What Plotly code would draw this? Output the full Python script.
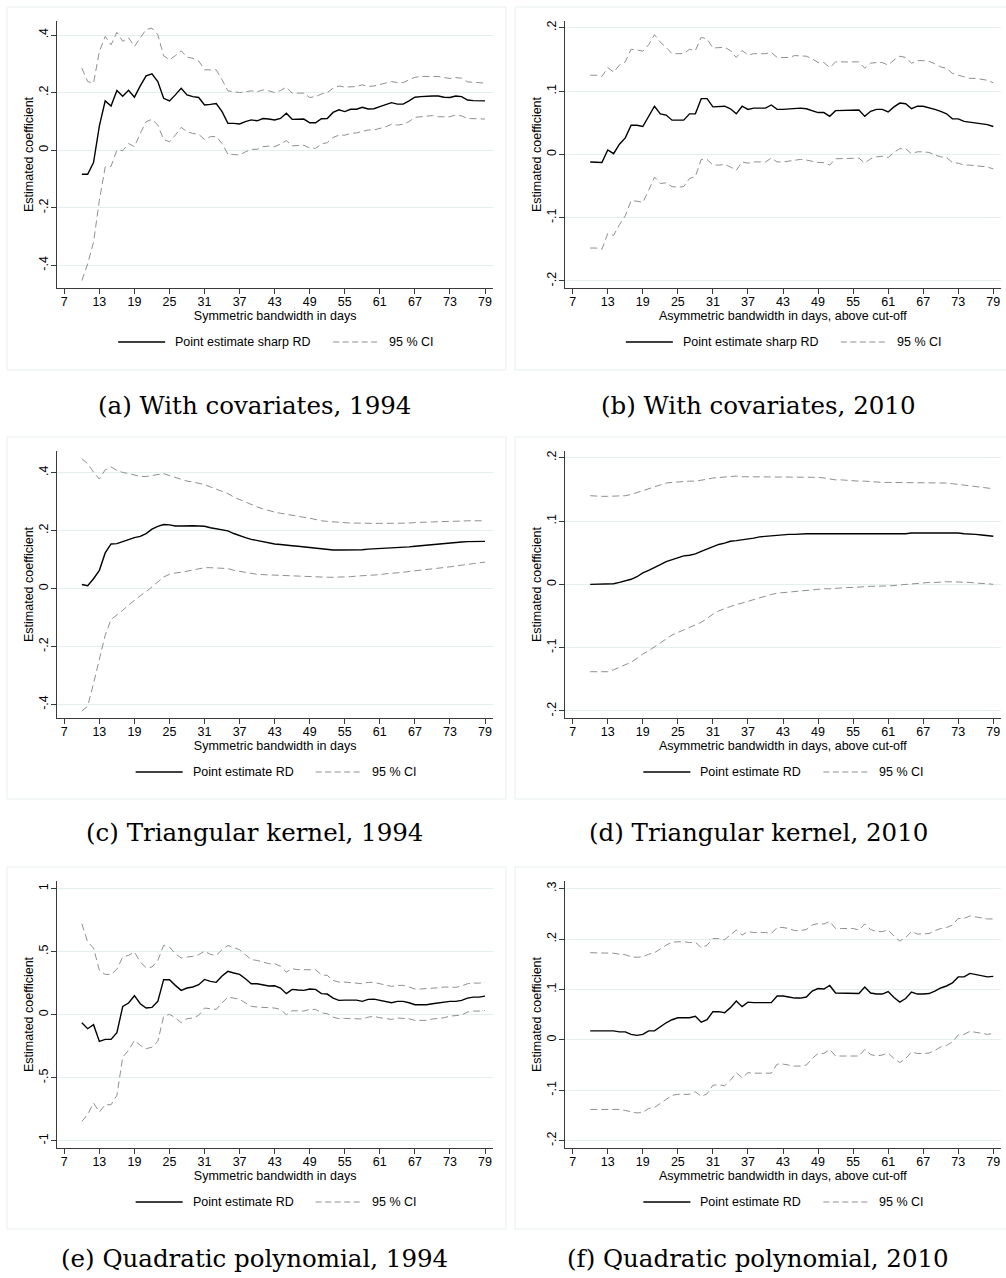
import plotly.graph_objects as go

# ---------------- DATA ----------------
days = list(range(10, 80))

# (a) With covariates, 1994
a_point = [-0.084, -0.084, -0.043, 0.084, 0.171, 0.153, 0.207, 0.187, 0.208, 0.184,
           0.223, 0.258, 0.265, 0.238, 0.180, 0.171, 0.192, 0.215, 0.192, 0.186,
           0.183, 0.157, 0.159, 0.162, 0.134, 0.093, 0.093, 0.091, 0.099, 0.105,
           0.102, 0.110, 0.108, 0.105, 0.110, 0.128, 0.107, 0.107, 0.108, 0.095,
           0.095, 0.109, 0.110, 0.131, 0.140, 0.134, 0.142, 0.142, 0.149, 0.143,
           0.144, 0.151, 0.157, 0.165, 0.160, 0.160, 0.171, 0.184, 0.186, 0.188,
           0.188, 0.188, 0.184, 0.183, 0.188, 0.186, 0.174, 0.172, 0.172, 0.171]
a_upper = [0.285, 0.238, 0.233, 0.343, 0.395, 0.366, 0.409, 0.378, 0.390, 0.360,
           0.390, 0.419, 0.424, 0.401, 0.328, 0.314, 0.328, 0.345, 0.323, 0.319,
           0.310, 0.279, 0.279, 0.279, 0.244, 0.206, 0.203, 0.200, 0.203, 0.206,
           0.203, 0.209, 0.206, 0.200, 0.207, 0.219, 0.198, 0.198, 0.198, 0.183,
           0.186, 0.195, 0.200, 0.215, 0.223, 0.219, 0.221, 0.221, 0.227, 0.221,
           0.223, 0.229, 0.233, 0.238, 0.235, 0.235, 0.244, 0.253, 0.256, 0.256,
           0.256, 0.256, 0.252, 0.249, 0.252, 0.250, 0.237, 0.235, 0.235, 0.233]
a_lower = [-0.453, -0.395, -0.320, -0.174, -0.058, -0.056, 0.000, -0.002, 0.023, 0.012,
           0.058, 0.099, 0.107, 0.087, 0.037, 0.029, 0.052, 0.079, 0.064, 0.058,
           0.055, 0.037, 0.047, 0.047, 0.023, -0.015, -0.015, -0.017, -0.006, 0.003,
           0.003, 0.012, 0.014, 0.012, 0.021, 0.033, 0.015, 0.015, 0.017, 0.008,
           0.006, 0.021, 0.026, 0.044, 0.052, 0.052, 0.058, 0.060, 0.064, 0.070,
           0.070, 0.076, 0.081, 0.090, 0.087, 0.090, 0.099, 0.114, 0.116, 0.120,
           0.120, 0.116, 0.116, 0.116, 0.122, 0.119, 0.110, 0.110, 0.109, 0.108]

# (b) With covariates, 2010
b_point = [-0.012, -0.012, -0.013, 0.007, 0.001, 0.016, 0.026, 0.046, 0.046, 0.044,
           0.060, 0.076, 0.064, 0.062, 0.054, 0.054, 0.054, 0.064, 0.064, 0.088,
           0.088, 0.075, 0.075, 0.076, 0.072, 0.064, 0.076, 0.071, 0.073, 0.073,
           0.073, 0.078, 0.071, 0.071, 0.072, 0.073, 0.073, 0.072, 0.069, 0.066,
           0.066, 0.060, 0.069, 0.069, 0.069, 0.069, 0.070, 0.060, 0.068, 0.071,
           0.071, 0.067, 0.075, 0.081, 0.080, 0.072, 0.076, 0.076, 0.074, 0.071,
           0.068, 0.064, 0.056, 0.056, 0.052, 0.051, 0.049, 0.049, 0.047, 0.044]
b_upper = [0.125, 0.125, 0.123, 0.137, 0.130, 0.141, 0.146, 0.166, 0.165, 0.163,
           0.173, 0.189, 0.177, 0.169, 0.159, 0.159, 0.159, 0.166, 0.164, 0.185,
           0.182, 0.168, 0.168, 0.169, 0.164, 0.153, 0.164, 0.157, 0.159, 0.159,
           0.159, 0.161, 0.153, 0.153, 0.153, 0.156, 0.156, 0.155, 0.151, 0.145,
           0.145, 0.137, 0.146, 0.146, 0.146, 0.146, 0.146, 0.136, 0.144, 0.145,
           0.145, 0.141, 0.149, 0.155, 0.153, 0.144, 0.148, 0.148, 0.147, 0.143,
           0.138, 0.136, 0.128, 0.125, 0.123, 0.120, 0.120, 0.119, 0.117, 0.113]
b_lower = [-0.148, -0.148, -0.150, -0.125, -0.128, -0.111, -0.097, -0.073, -0.074, -0.076,
           -0.057, -0.036, -0.046, -0.045, -0.051, -0.052, -0.051, -0.038, -0.035, -0.008,
           -0.008, -0.017, -0.017, -0.016, -0.020, -0.025, -0.012, -0.014, -0.012, -0.012,
           -0.012, -0.006, -0.012, -0.012, -0.011, -0.009, -0.008, -0.009, -0.011, -0.013,
           -0.013, -0.017, -0.007, -0.007, -0.007, -0.007, -0.006, -0.014, -0.007, -0.004,
           -0.003, -0.005, 0.003, 0.009, 0.009, 0.001, 0.004, 0.004, 0.003, -0.001,
           -0.004, -0.005, -0.013, -0.014, -0.017, -0.017, -0.018, -0.019, -0.020, -0.023]

# (c) Triangular kernel, 1994
c_point = [0.014, 0.010, 0.034, 0.063, 0.123, 0.154, 0.155, 0.163, 0.169, 0.176,
           0.180, 0.190, 0.205, 0.215, 0.221, 0.220, 0.216, 0.216, 0.217, 0.217,
           0.216, 0.215, 0.210, 0.207, 0.203, 0.199, 0.190, 0.182, 0.176, 0.170,
           0.166, 0.161, 0.157, 0.154, 0.152, 0.149, 0.148, 0.146, 0.144, 0.141,
           0.138, 0.136, 0.134, 0.133, 0.133, 0.133, 0.133, 0.134, 0.134, 0.136,
           0.137, 0.137, 0.138, 0.139, 0.140, 0.143, 0.144, 0.146, 0.148, 0.151,
           0.153, 0.154, 0.156, 0.157, 0.160, 0.161, 0.162, 0.163, 0.163, 0.163]
c_upper = [0.448, 0.431, 0.402, 0.378, 0.410, 0.420, 0.408, 0.401, 0.397, 0.392,
           0.387, 0.387, 0.390, 0.394, 0.397, 0.390, 0.383, 0.376, 0.371, 0.368,
           0.364, 0.359, 0.351, 0.343, 0.336, 0.328, 0.316, 0.307, 0.298, 0.289,
           0.282, 0.275, 0.269, 0.264, 0.260, 0.256, 0.253, 0.249, 0.246, 0.243,
           0.238, 0.234, 0.232, 0.230, 0.229, 0.228, 0.226, 0.226, 0.225, 0.225,
           0.225, 0.225, 0.225, 0.225, 0.225, 0.226, 0.226, 0.228, 0.228, 0.229,
           0.230, 0.231, 0.231, 0.232, 0.233, 0.233, 0.234, 0.234, 0.234, 0.234]
c_lower = [-0.423, -0.406, -0.328, -0.247, -0.161, -0.107, -0.092, -0.075, -0.057, -0.040,
           -0.025, -0.011, 0.006, 0.023, 0.040, 0.049, 0.054, 0.056, 0.060, 0.064,
           0.069, 0.072, 0.072, 0.071, 0.071, 0.069, 0.063, 0.059, 0.055, 0.052,
           0.049, 0.048, 0.047, 0.046, 0.045, 0.044, 0.044, 0.044, 0.043, 0.041,
           0.040, 0.039, 0.039, 0.039, 0.039, 0.040, 0.041, 0.043, 0.044, 0.045,
           0.047, 0.048, 0.051, 0.052, 0.054, 0.056, 0.059, 0.061, 0.063, 0.066,
           0.068, 0.070, 0.072, 0.075, 0.078, 0.080, 0.084, 0.086, 0.089, 0.091]

# (d) Triangular kernel, 2010
d_point = [0.000, 0.000, 0.000, 0.000, 0.001, 0.003, 0.005, 0.008, 0.012, 0.018,
           0.022, 0.026, 0.031, 0.036, 0.039, 0.043, 0.045, 0.046, 0.048, 0.052,
           0.056, 0.060, 0.063, 0.065, 0.068, 0.069, 0.070, 0.072, 0.073, 0.075,
           0.076, 0.077, 0.078, 0.079, 0.079, 0.079, 0.080, 0.080, 0.080, 0.080,
           0.080, 0.080, 0.079, 0.079, 0.079, 0.079, 0.079, 0.079, 0.079, 0.079,
           0.079, 0.079, 0.079, 0.080, 0.080, 0.081, 0.081, 0.081, 0.081, 0.082,
           0.082, 0.082, 0.081, 0.081, 0.080, 0.080, 0.079, 0.078, 0.077, 0.076]
d_upper = [0.140, 0.139, 0.139, 0.139, 0.139, 0.139, 0.140, 0.142, 0.145, 0.147,
           0.150, 0.153, 0.157, 0.160, 0.161, 0.162, 0.162, 0.163, 0.163, 0.164,
           0.166, 0.168, 0.169, 0.170, 0.170, 0.171, 0.170, 0.170, 0.170, 0.170,
           0.170, 0.170, 0.170, 0.170, 0.170, 0.170, 0.170, 0.170, 0.169, 0.169,
           0.168, 0.166, 0.165, 0.165, 0.164, 0.164, 0.163, 0.163, 0.162, 0.162,
           0.161, 0.161, 0.161, 0.161, 0.161, 0.161, 0.161, 0.161, 0.161, 0.161,
           0.160, 0.160, 0.159, 0.158, 0.157, 0.156, 0.155, 0.154, 0.152, 0.151]
d_lower = [-0.138, -0.138, -0.138, -0.138, -0.135, -0.131, -0.128, -0.123, -0.117, -0.110,
           -0.105, -0.099, -0.093, -0.086, -0.080, -0.076, -0.072, -0.069, -0.065, -0.060,
           -0.054, -0.047, -0.042, -0.038, -0.035, -0.032, -0.030, -0.027, -0.024, -0.021,
           -0.019, -0.016, -0.014, -0.013, -0.012, -0.011, -0.010, -0.009, -0.009, -0.008,
           -0.007, -0.007, -0.006, -0.006, -0.005, -0.005, -0.004, -0.004, -0.003, -0.003,
           -0.003, -0.002, -0.002, -0.001, 0.000, 0.001, 0.002, 0.002, 0.003, 0.003,
           0.004, 0.004, 0.004, 0.004, 0.003, 0.003, 0.002, 0.002, 0.001, 0.000]

# (e) Quadratic polynomial, 1994
e_point = [-0.063, -0.111, -0.079, -0.212, -0.196, -0.196, -0.143, 0.066, 0.093, 0.151,
           0.087, 0.053, 0.058, 0.106, 0.278, 0.278, 0.233, 0.193, 0.212, 0.220,
           0.238, 0.280, 0.265, 0.257, 0.307, 0.344, 0.331, 0.320, 0.286, 0.246,
           0.246, 0.238, 0.228, 0.230, 0.212, 0.167, 0.201, 0.196, 0.193, 0.204,
           0.201, 0.167, 0.164, 0.132, 0.114, 0.116, 0.114, 0.116, 0.106, 0.122,
           0.124, 0.114, 0.101, 0.095, 0.106, 0.106, 0.095, 0.079, 0.079, 0.079,
           0.087, 0.093, 0.095, 0.106, 0.106, 0.114, 0.132, 0.140, 0.140, 0.148]
e_upper = [0.722, 0.577, 0.529, 0.352, 0.320, 0.320, 0.360, 0.458, 0.471, 0.497,
           0.418, 0.373, 0.378, 0.431, 0.550, 0.537, 0.484, 0.450, 0.458, 0.463,
           0.476, 0.505, 0.479, 0.471, 0.516, 0.550, 0.532, 0.516, 0.476, 0.437,
           0.431, 0.418, 0.405, 0.405, 0.384, 0.339, 0.365, 0.357, 0.357, 0.362,
           0.357, 0.317, 0.312, 0.272, 0.259, 0.259, 0.254, 0.251, 0.246, 0.257,
           0.257, 0.246, 0.233, 0.225, 0.233, 0.233, 0.220, 0.204, 0.204, 0.206,
           0.209, 0.214, 0.220, 0.220, 0.217, 0.228, 0.246, 0.251, 0.251, 0.257]
e_lower = [-0.847, -0.791, -0.701, -0.772, -0.714, -0.714, -0.640, -0.336, -0.283, -0.204,
           -0.243, -0.270, -0.257, -0.212, -0.013, 0.003, -0.024, -0.063, -0.032, -0.026,
           -0.005, 0.053, 0.048, 0.042, 0.095, 0.140, 0.132, 0.122, 0.093, 0.066,
           0.061, 0.058, 0.053, 0.053, 0.042, 0.000, 0.032, 0.029, 0.029, 0.042,
           0.042, 0.016, 0.008, -0.019, -0.032, -0.029, -0.029, -0.029, -0.034, -0.019,
           -0.013, -0.024, -0.032, -0.037, -0.026, -0.026, -0.032, -0.045, -0.045, -0.045,
           -0.034, -0.032, -0.024, -0.011, -0.008, -0.003, 0.021, 0.029, 0.029, 0.034]

# (f) Quadratic polynomial, 2010
f_point = [0.018, 0.018, 0.018, 0.017, 0.018, 0.016, 0.016, 0.011, 0.009, 0.011,
           0.018, 0.018, 0.026, 0.034, 0.040, 0.044, 0.044, 0.044, 0.047, 0.035,
           0.040, 0.056, 0.056, 0.054, 0.064, 0.077, 0.066, 0.075, 0.074, 0.074,
           0.074, 0.074, 0.087, 0.087, 0.085, 0.083, 0.083, 0.085, 0.097, 0.102,
           0.101, 0.108, 0.093, 0.093, 0.093, 0.093, 0.092, 0.105, 0.093, 0.091,
           0.091, 0.096, 0.084, 0.075, 0.082, 0.095, 0.091, 0.091, 0.092, 0.097,
           0.103, 0.107, 0.113, 0.125, 0.125, 0.132, 0.130, 0.128, 0.125, 0.126]
f_upper = [0.173, 0.173, 0.173, 0.172, 0.172, 0.170, 0.169, 0.165, 0.164, 0.165,
           0.170, 0.173, 0.181, 0.188, 0.194, 0.195, 0.195, 0.193, 0.194, 0.183,
           0.188, 0.201, 0.201, 0.199, 0.208, 0.218, 0.208, 0.215, 0.213, 0.213,
           0.213, 0.211, 0.223, 0.223, 0.221, 0.217, 0.217, 0.219, 0.228, 0.231,
           0.230, 0.235, 0.221, 0.221, 0.221, 0.221, 0.218, 0.230, 0.219, 0.215,
           0.215, 0.218, 0.206, 0.196, 0.203, 0.215, 0.210, 0.210, 0.211, 0.217,
           0.221, 0.223, 0.228, 0.241, 0.241, 0.246, 0.244, 0.242, 0.240, 0.240]
f_lower = [-0.138, -0.138, -0.138, -0.138, -0.138, -0.138, -0.140, -0.143, -0.145, -0.144,
           -0.136, -0.134, -0.126, -0.119, -0.110, -0.108, -0.108, -0.108, -0.103, -0.112,
           -0.107, -0.090, -0.089, -0.091, -0.080, -0.065, -0.075, -0.065, -0.066, -0.066,
           -0.066, -0.066, -0.048, -0.048, -0.050, -0.052, -0.052, -0.050, -0.037, -0.027,
           -0.027, -0.019, -0.032, -0.032, -0.032, -0.032, -0.032, -0.019, -0.029, -0.032,
           -0.030, -0.026, -0.037, -0.045, -0.037, -0.024, -0.027, -0.027, -0.026, -0.021,
           -0.014, -0.011, -0.004, 0.010, 0.011, 0.017, 0.015, 0.013, 0.011, 0.013]

x_tickvals = list(range(7, 80, 6))

y_ticks_a = [-0.4, -0.2, 0, 0.2, 0.4]
y_ticktext_a = ["-.4", "-.2", "0", ".2", ".4"]
y_ticks_b = [-0.2, -0.1, 0, 0.1, 0.2]
y_ticktext_b = ["-.2", "-.1", "0", ".1", ".2"]
y_ticks_e = [-1, -0.5, 0, 0.5, 1]
y_ticktext_e = ["-1", "-.5", "0", ".5", "1"]
y_ticks_f = [-0.2, -0.1, 0, 0.1, 0.2, 0.3]
y_ticktext_f = ["-.2", "-.1", "0", ".1", ".2", ".3"]

x_title_sym = "Symmetric bandwidth in days"
x_title_asym = "Asymmetric bandwidth in days, above cut-off"
y_title = "Estimated coefficient"
legend_point_sharp = "Point estimate sharp RD"
legend_point = "Point estimate RD"
legend_ci = "95 % CI"

captions = ["(a) With covariates, 1994", "(b) With covariates, 2010",
            "(c) Triangular kernel, 1994", "(d) Triangular kernel, 2010",
            "(e) Quadratic polynomial, 1994", "(f) Quadratic polynomial, 2010"]

# ---------------- LAYOUT / STYLE ----------------
W, H = 1006, 1278
SANS = "Liberation Sans, Arial, sans-serif"
SERIF = "DejaVu Serif, serif"
FS = 12.5
GRID = "#e6eff0"
AXIS = "#3a3a3a"
CI_COL = "#8f8f8f"
BOX = "#e9eff1"

cols = [dict(x0=57.3, x1=493.0, xr=[5.80, 80.37], cap_c=254, box=(7, 506)),
        dict(x0=565.0, x1=1000.7, xr=[5.68, 80.27], cap_c=758, box=(515, 1014))]
rows = [dict(y0=20.7, y1=288.3, cap=405, box=(7, 370)),
        dict(y0=450.7, y1=718.3, cap=832, box=(437, 799)),
        dict(y0=880.7, y1=1148.3, cap=1258, box=(867, 1229))]

panels = [
    dict(pt=a_point, hi=a_upper, lo=a_lower, yt=y_ticks_a, ytt=y_ticktext_a, yr=[-0.480, 0.4497],
         xt=x_title_sym, leg=legend_point_sharp, legw=135),
    dict(pt=b_point, hi=b_upper, lo=b_lower, yt=y_ticks_b, ytt=y_ticktext_b, yr=[-0.2116, 0.2111],
         xt=x_title_asym, leg=legend_point_sharp, legw=135),
    dict(pt=c_point, hi=c_upper, lo=c_lower, yt=y_ticks_a, ytt=y_ticktext_a, yr=[-0.448, 0.476],
         xt=x_title_sym, leg=legend_point, legw=100),
    dict(pt=d_point, hi=d_upper, lo=d_lower, yt=y_ticks_b, ytt=y_ticktext_b, yr=[-0.2116, 0.2111],
         xt=x_title_asym, leg=legend_point, legw=100),
    dict(pt=e_point, hi=e_upper, lo=e_lower, yt=y_ticks_e, ytt=y_ticktext_e, yr=[-1.060, 1.0635],
         xt=x_title_sym, leg=legend_point, legw=100),
    dict(pt=f_point, hi=f_upper, lo=f_lower, yt=y_ticks_f, ytt=y_ticktext_f, yr=[-0.2151, 0.3159],
         xt=x_title_asym, leg=legend_point, legw=100),
]

def px(x):
    return x / W

def py(y):
    return 1 - y / H

fig = go.Figure()
layout = dict(width=W, height=H, margin=dict(l=0, r=0, t=0, b=0),
              paper_bgcolor="white", plot_bgcolor="white", showlegend=False,
              font=dict(family=SANS, size=FS, color="black"))
shapes = []
annotations = []

for i, p in enumerate(panels):
    r, c = rows[i // 2], cols[i % 2]
    k = "" if i == 0 else str(i + 1)
    xa, ya = "x" + k, "y" + k
    for series, color, dash, width in [(p["hi"], CI_COL, "7px,4px", 1.0),
                                       (p["lo"], CI_COL, "7px,4px", 1.0),
                                       (p["pt"], "black", "solid", 1.4)]:
        fig.add_trace(go.Scatter(x=days, y=series, mode="lines", xaxis=xa, yaxis=ya,
                                 line=dict(color=color, dash=dash, width=width),
                                 hoverinfo="skip"))
    layout["xaxis" + k] = dict(
        domain=[px(c["x0"]), px(c["x1"])], anchor=ya, range=c["xr"],
        tickmode="array", tickvals=x_tickvals, ticks="outside", ticklen=5, tickwidth=1,
        tickcolor=AXIS, showline=True, linecolor=AXIS, linewidth=1.3, showgrid=False,
        zeroline=False, ticklabelstandoff=-3,
        tickfont=dict(family=SANS, size=FS, color="black"),
        title=dict(text=p["xt"], standoff=0, font=dict(family=SANS, size=FS, color="black")))
    layout["yaxis" + k] = dict(
        domain=[py(r["y1"]), py(r["y0"])], anchor=xa, range=p["yr"],
        tickmode="array", tickvals=p["yt"], ticktext=p["ytt"], tickangle=-90,
        ticks="outside", ticklen=5, tickwidth=1, tickcolor=AXIS,
        showline=True, linecolor=AXIS, linewidth=1.3, ticklabelstandoff=-2,
        showgrid=True, gridcolor=GRID, gridwidth=1, zeroline=False,
        tickfont=dict(family=SANS, size=FS, color="black"),
        title=dict(text=y_title, standoff=0, font=dict(family=SANS, size=FS, color="black")))

    # outer graph-region box
    bx0, bx1 = c["box"]
    by0, by1 = r["box"]
    shapes.append(dict(type="rect", xref="paper", yref="paper",
                       x0=px(bx0), x1=px(bx1), y0=py(by1), y1=py(by0),
                       line=dict(color=BOX, width=1), layer="below"))

    # legend (Stata style, below plot)
    ly = r["y0"] + 321.3
    total = 47 + 8 + p["legw"] + 25 + 47 + 7 + 45
    lx = (c["x0"] + c["x1"]) / 2 - total / 2
    shapes.append(dict(type="line", xref="paper", yref="paper",
                       x0=px(lx), x1=px(lx + 47), y0=py(ly), y1=py(ly),
                       line=dict(color="black", width=1.4)))
    annotations.append(dict(text=p["leg"], xref="paper", yref="paper", x=px(lx + 55), y=py(ly),
                            xanchor="left", yanchor="middle", showarrow=False,
                            font=dict(family=SANS, size=FS, color="black")))
    dx = lx + 55 + p["legw"] + 25
    shapes.append(dict(type="line", xref="paper", yref="paper",
                       x0=px(dx), x1=px(dx + 47), y0=py(ly), y1=py(ly),
                       line=dict(color=CI_COL, width=1.0, dash="6px,3.5px")))
    annotations.append(dict(text=legend_ci, xref="paper", yref="paper", x=px(dx + 54), y=py(ly),
                            xanchor="left", yanchor="middle", showarrow=False,
                            font=dict(family=SANS, size=FS, color="black")))

    # caption
    annotations.append(dict(text=captions[i], xref="paper", yref="paper",
                            x=px(c["cap_c"]), y=py(r["cap"]), xanchor="center", yanchor="middle",
                            showarrow=False, font=dict(family=SERIF, size=24.5, color="black")))

layout["shapes"] = shapes
layout["annotations"] = annotations
fig.update_layout(**layout)
fig.write_html("out.html")
